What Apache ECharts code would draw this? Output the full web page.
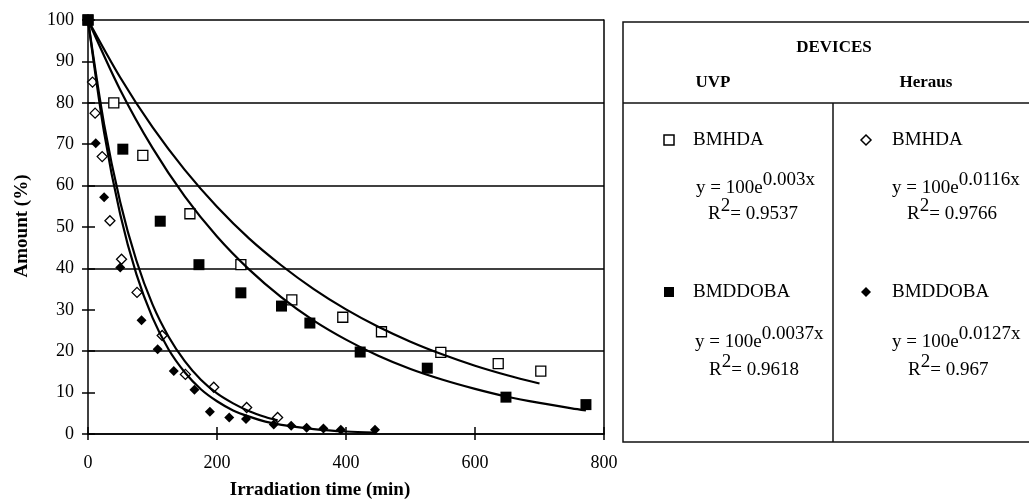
<!DOCTYPE html>
<html><head><meta charset="utf-8">
<script src="https://cdn.jsdelivr.net/npm/echarts@6/dist/echarts.min.js"></script>
<style>html,body{margin:0;padding:0;background:#fff}#c{width:1029px;height:501px}</style>
</head><body><div id="c"></div>
<script>
// ---- measured points ----
const uvpBmhdaTime = [0, 40, 85, 158, 237, 316, 395, 455, 547, 636, 702];
const uvpBmhdaAmount = [100, 80, 67.3, 53.2, 40.9, 32.4, 28.2, 24.7, 19.7, 17.0, 15.2];

const uvpBmddobaTime = [0, 54, 112, 172, 237, 300, 344, 422, 526, 648, 772];
const uvpBmddobaAmount = [100, 68.8, 51.4, 40.9, 34.1, 30.9, 26.8, 19.8, 15.9, 8.9, 7.1];

const herausBmhdaTime = [0, 7, 11, 22, 34, 52, 76, 115, 151, 195, 246, 294];
const herausBmhdaAmount = [100, 85, 77.5, 67, 51.5, 42.2, 34.2, 23.8, 14.4, 11.3, 6.4, 4.0];

const herausBmddobaTime = [0, 12, 25, 50, 83, 108, 133, 165, 189, 219, 245, 288, 315, 339, 365, 392, 445];
const herausBmddobaAmount = [100, 70.2, 57.2, 40.2, 27.5, 20.5, 15.2, 10.7, 5.4, 4.0, 3.6, 2.3, 2.0, 1.5, 1.3, 1.0, 1.0];

// ---- trend lines ----
const uvpBmhdaFitTime = [0, 50, 100, 150, 200, 250, 300, 350, 400, 450, 500, 550, 600, 650, 700];
const uvpBmhdaFitAmount = [100, 86.1, 74.1, 63.8, 54.9, 47.2, 40.7, 35.0, 30.1, 25.9, 22.3, 19.2, 16.5, 14.2, 12.2];

const uvpBmddobaFitTime = [0, 50, 100, 150, 200, 250, 300, 350, 400, 450, 500, 550, 600, 650, 700, 750, 772];
const uvpBmddobaFitAmount = [100, 83.1, 69.1, 57.4, 47.7, 39.7, 33.0, 27.4, 22.8, 18.9, 15.7, 13.1, 10.9, 9.0, 7.5, 6.2, 5.7];

const herausBmhdaFitTime = [0, 25, 50, 75, 100, 125, 150, 175, 200, 225, 250, 275, 294];
const herausBmhdaFitAmount = [100, 74.8, 56.0, 41.9, 31.3, 23.5, 17.6, 13.1, 9.8, 7.4, 5.5, 4.1, 3.3];

const herausBmddobaFitTime = [0, 25, 50, 75, 100, 125, 150, 175, 200, 225, 250, 275, 300, 350, 400, 445];
const herausBmddobaFitAmount = [100, 72.8, 53.0, 38.6, 28.1, 20.4, 14.9, 10.8, 7.9, 5.7, 4.2, 3.0, 2.2, 1.2, 0.6, 0.35];

// ---- axis / legend text ----
const xTicks = {min: 0, max: 800, step: 200};
const yTicks = {min: 0, max: 100, step: 10, gridStep: 20};
const xTitle = 'Irradiation time (min)';
const yTitle = 'Amount (%)';
const legendHeader = 'DEVICES';
const deviceNames = ['UVP', 'Heraus'];
const compoundNames = ['BMHDA', 'BMDDOBA'];
const equations = [['0.003x', '0.9537'], ['0.0116x', '0.9766'], ['0.0037x', '0.9618'], ['0.0127x', '0.967']];

const FONT = '"Liberation Serif", "Times New Roman", serif';
const pairs = (xs, ys) => xs.map((x, i) => [x, ys[i]]);

function scatter(name, xs, ys, symbol, filled, size) {
  return {
    type: 'scatter', name, data: pairs(xs, ys), symbol, symbolSize: size, z: 3,
    itemStyle: {color: filled ? '#000' : '#fff', borderColor: '#000', borderWidth: filled ? 0 : 1.3, opacity: 1}
  };
}
function fit(name, xs, ys) {
  return {
    type: 'line', name, data: pairs(xs, ys), smooth: 0.3, showSymbol: false, z: 4,
    lineStyle: {color: '#000', width: 2.2}
  };
}

const chart = echarts.init(document.getElementById('c'), null, {renderer: 'canvas'});
const axisLineStyle = {color: '#000', width: 1.5};

function eqText(x, y, sup) {
  return {type: 'text', x, y, style: {
    text: '{n|y = 100e}{s|' + sup + '}', verticalAlign: 'middle', align: 'left',
    rich: {n: {fontFamily: FONT, fontSize: 19, lineHeight: 34, verticalAlign: 'middle', fill: '#000'},
           s: {fontFamily: FONT, fontSize: 19, lineHeight: 20, verticalAlign: 'top', fill: '#000'}}
  }};
}
function r2Text(x, y, val) {
  return {type: 'text', x, y, style: {
    text: '{n|R}{s|2}{n|= ' + val + '}', verticalAlign: 'middle', align: 'left',
    rich: {n: {fontFamily: FONT, fontSize: 19, lineHeight: 34, verticalAlign: 'middle', fill: '#000'},
           s: {fontFamily: FONT, fontSize: 19, lineHeight: 22, verticalAlign: 'top', fill: '#000'}}
  }};
}
function plainText(x, y, text, opts) {
  return {type: 'text', x, y, style: Object.assign({text, fontFamily: FONT, fontSize: 19, fill: '#000', verticalAlign: 'middle', align: 'left'}, opts || {})};
}
function sq(cx, cy, filled) {
  return {type: 'rect', shape: {x: cx - 5, y: cy - 5, width: 10, height: 10},
    style: {fill: filled ? '#000' : '#fff', stroke: '#000', lineWidth: filled ? 0 : 1.5}};
}
function dia(cx, cy, filled) {
  return {type: 'polygon', shape: {points: [[cx, cy - 5], [cx + 5, cy], [cx, cy + 5], [cx - 5, cy]]},
    style: {fill: filled ? '#000' : '#fff', stroke: '#000', lineWidth: filled ? 0 : 1.5}};
}

const option = {
  animation: false,
  backgroundColor: '#fff',
  grid: {left: 88, right: 425, top: 20, bottom: 67, containLabel: false},
  xAxis: [
    {type: 'value', min: xTicks.min, max: xTicks.max, interval: xTicks.step, position: 'bottom',
     axisLine: {show: true, onZero: false, lineStyle: axisLineStyle},
     axisTick: {show: true, inside: false, length: 6, lineStyle: axisLineStyle},
     axisLabel: {fontFamily: FONT, fontSize: 18, color: '#000', margin: 20},
     splitLine: {show: false}},
    {type: 'value', min: xTicks.min, max: xTicks.max, interval: xTicks.step, position: 'bottom',
     axisLine: {show: false, onZero: false},
     axisTick: {show: true, inside: true, length: 7, lineStyle: axisLineStyle},
     axisLabel: {show: false}, splitLine: {show: false}}
  ],
  yAxis: [
    {type: 'value', min: yTicks.min, max: yTicks.max, interval: yTicks.step, position: 'left',
     axisLine: {show: true, onZero: false, lineStyle: axisLineStyle},
     axisTick: {show: true, inside: false, length: 6, lineStyle: axisLineStyle},
     axisLabel: {fontFamily: FONT, fontSize: 18, color: '#000', margin: 14},
     splitLine: {show: false}},
    {type: 'value', min: yTicks.min, max: yTicks.max, interval: yTicks.step, position: 'left',
     axisLine: {show: false, onZero: false},
     axisTick: {show: true, inside: true, length: 7, lineStyle: axisLineStyle},
     axisLabel: {show: false}, splitLine: {show: false}},
    {type: 'value', min: yTicks.min, max: yTicks.max, interval: yTicks.gridStep, position: 'right',
     axisLine: {show: true, onZero: false, lineStyle: axisLineStyle},
     axisTick: {show: false}, axisLabel: {show: false},
     splitLine: {show: true, lineStyle: {color: '#000', width: 1.5}}}
  ],
  series: [
    scatter('UVP BMHDA', uvpBmhdaTime, uvpBmhdaAmount, 'rect', false, 10),
    scatter('UVP BMDDOBA', uvpBmddobaTime, uvpBmddobaAmount, 'rect', true, 11),
    scatter('Heraus BMHDA', herausBmhdaTime, herausBmhdaAmount, 'diamond', false, 10),
    scatter('Heraus BMDDOBA', herausBmddobaTime, herausBmddobaAmount, 'diamond', true, 10),
    fit('UVP BMHDA fit', uvpBmhdaFitTime, uvpBmhdaFitAmount),
    fit('UVP BMDDOBA fit', uvpBmddobaFitTime, uvpBmddobaFitAmount),
    fit('Heraus BMHDA fit', herausBmhdaFitTime, herausBmhdaFitAmount),
    fit('Heraus BMDDOBA fit', herausBmddobaFitTime, herausBmddobaFitAmount)
  ],
  graphic: [
    plainText(320, 490, xTitle, {fontWeight: 'bold', align: 'center'}),
    {type: 'text', x: 22, y: 226, rotation: Math.PI / 2,
     style: {text: yTitle, fontFamily: FONT, fontSize: 19, fontWeight: 'bold', fill: '#000', align: 'center', verticalAlign: 'middle'}},
    // legend box
    {type: 'rect', shape: {x: 623, y: 22, width: 420, height: 420}, style: {fill: 'none', stroke: '#111', lineWidth: 1.5}},
    {type: 'line', shape: {x1: 623, y1: 103, x2: 1040, y2: 103}, style: {stroke: '#111', lineWidth: 1.5}},
    {type: 'line', shape: {x1: 833, y1: 103, x2: 833, y2: 442}, style: {stroke: '#111', lineWidth: 1.5}},
    plainText(834, 48, legendHeader, {fontWeight: 'bold', fontSize: 17, align: 'center'}),
    plainText(713, 83, deviceNames[0], {fontWeight: 'bold', fontSize: 17, align: 'center'}),
    plainText(926, 83, deviceNames[1], {fontWeight: 'bold', fontSize: 17, align: 'center'}),
    sq(669, 140, false), plainText(693, 140, compoundNames[0]),
    eqText(696, 188, equations[0][0]), r2Text(708, 214, equations[0][1]),
    dia(866, 140, false), plainText(892, 140, compoundNames[0]),
    eqText(892, 188, equations[1][0]), r2Text(907, 214, equations[1][1]),
    sq(669, 292, true), plainText(693, 292, compoundNames[1]),
    eqText(695, 342, equations[2][0]), r2Text(709, 370, equations[2][1]),
    dia(866, 292, true), plainText(892, 292, compoundNames[1]),
    eqText(892, 342, equations[3][0]), r2Text(908, 370, equations[3][1])
  ]
};
chart.setOption(option);
</script>
</body></html>
